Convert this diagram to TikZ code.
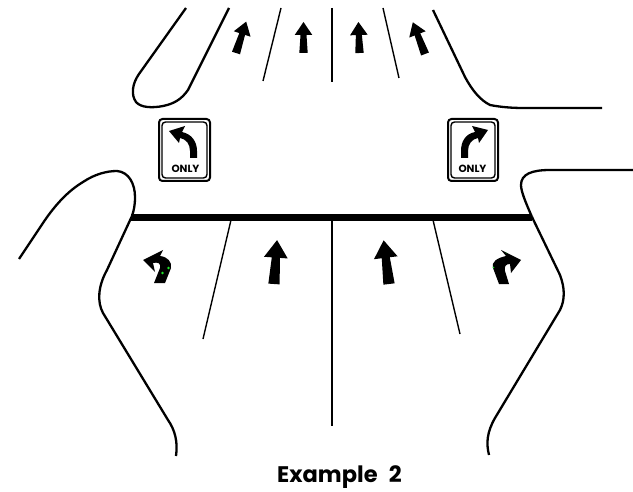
\documentclass[tikz,border=0pt]{standalone}
\usepackage{fontspec}
\setmainfont{Poppins}
\begin{document}
\newcommand{\laneArrow}[5]{% base x,y, rotation, length, scale
  \begin{scope}[shift={(#1,#2)},rotate=#3]
    \fill (-#5*4.2,0) -- (-#5*3,-#4+#5*13) -- (-#5*8.8,-#4+#5*13) -- (0,-#4) -- (#5*8.8,-#4+#5*13) -- (#5*3,-#4+#5*13) -- (#5*4.2,0) -- cycle;
  \end{scope}}
\newcommand{\signBoard}[4]{% x0,y0,x1,y1
  \draw[signline,line width=2*0.75pt] (#1,#2) rectangle (#3,#4);
  \draw[signline,line width=1.4*0.75pt] (#1+3,#2+3) rectangle (#3-3,#4-3);}
\begin{tikzpicture}[x=0.75pt,y=-0.75pt,
  edge/.style={line width=2.3*0.75pt,line join=round,line cap=butt},
  lane/.style={line width=1.4*0.75pt},
  signline/.style={rounded corners=3.5*0.75pt},
  onlytext/.style={font=\fontsize{7.8pt}{8pt}\selectfont\bfseries,inner sep=0pt},
  dot/.style={fill={rgb,255:red,30;green,230;blue,40}}]
\useasboundingbox (0,0) rectangle (633,492);
\fill[white] (0,0) rectangle (633,492);
% upper island
\draw[edge] (186,8) -- (139,74) .. controls (132,84) and (131,95) .. (136,102)
  .. controls (141,108) and (153,108) .. (163,106)
  .. controls (173,104) and (181,100) .. (188,90) -- (229,8);
% upper right kerb
\draw[edge] (433,10) -- (465,77) .. controls (472,90) and (480,100) .. (490,105)
  .. controls (500,107) and (512,108) .. (523,108) -- (602,108);
% lower left kerb
\draw[edge] (19,259) -- (43,223) .. controls (55,205) and (68,191) .. (83,182)
  .. controls (95,174) and (107,171) .. (117,171)
  .. controls (129,172) and (135,184) .. (135,197) .. controls (135,205) and (134,210) .. (132,216);
\draw[edge] (132,216) -- (107,270) .. controls (98,286) and (97,302) .. (103,313)
  -- (168,420) .. controls (175,430) and (178,442) .. (176,456);
% lower right kerb
\draw[edge] (633,170) -- (550,170) .. controls (532,170) and (521,174) .. (521,185)
  .. controls (521,191) and (525,201) .. (532,217);
\draw[edge] (532,217) -- (560,275) .. controls (565,288) and (565,300) .. (560,310)
  -- (495,418) .. controls (487,432) and (486,443) .. (489,455);
% stop bar
\draw[line width=7*0.75pt] (131,217.5) -- (532,217.5);
% lane lines
\draw[line width=1.7*0.75pt] (332,220) -- (332,426);
\draw[lane] (231,220) -- (203,339);
\draw[lane] (433,220) -- (460,334);
\draw[lane] (281,8) -- (263,81);
\draw[line width=1.7*0.75pt] (332,8) -- (332,82);
\draw[lane] (383,8) -- (399,78);
% lane arrows
\laneArrow{236}{53}{-18}{33}{1}
\laneArrow{303.5}{53}{0}{31}{1}
\laneArrow{359.5}{53}{2}{31}{1}
\laneArrow{425}{54}{21}{34}{1}
\laneArrow{274}{284}{-4}{44}{1.35}
\laneArrow{389}{284}{7}{44}{1.35}
% turn arrows
\fill (143,260) -- (163,250) -- (160,256) .. controls (168,257) and (172,262) .. (171,268)
  -- (165,283) -- (154,283) -- (160,268) .. controls (161,263) and (158,262) .. (153,263)
  -- (155,272) -- cycle;
\fill[dot] (162.5,273) circle (1.3) (168.5,268) circle (1.3);
\fill (521,260) -- (501,250) -- (506,256) .. controls (497,258) and (491,262) .. (493,268)
  -- (499,284) -- (509,284) -- (505,271) .. controls (504,266) and (506,264) .. (510,264)
  -- (511,273) -- cycle;
\fill[dot] (493.5,267.5) circle (0.8) (506,253) circle (0.5);
% left sign
\signBoard{159}{119}{210}{181}
\fill (169,131) -- (185,126) -- (182,132) .. controls (192,134) and (197,142) .. (197,151)
  -- (197,158) -- (190,158) -- (190,151) .. controls (190,144) and (186,139) .. (180,138)
  -- (179,143) -- cycle;
\node[onlytext] (onlyL) at (185.5,168.5) {ONLY};
% right sign
\signBoard{448}{119}{498}{181}
\fill (488,130) -- (472,126) -- (475,132) .. controls (465,134) and (461,142) .. (461,151)
  -- (461,158) -- (468,158) -- (468,151) .. controls (468,144) and (472,139) .. (478,138)
  -- (479,143) -- cycle;
\node[onlytext] (onlyR) at (472.5,168.5) {ONLY};
% caption
\node[font=\fontsize{16.9pt}{20pt}\selectfont\bfseries,inner sep=0pt] (caption) at (339.5,477) {\spaceskip=0.5em Example 2};
\end{tikzpicture}
\end{document}
